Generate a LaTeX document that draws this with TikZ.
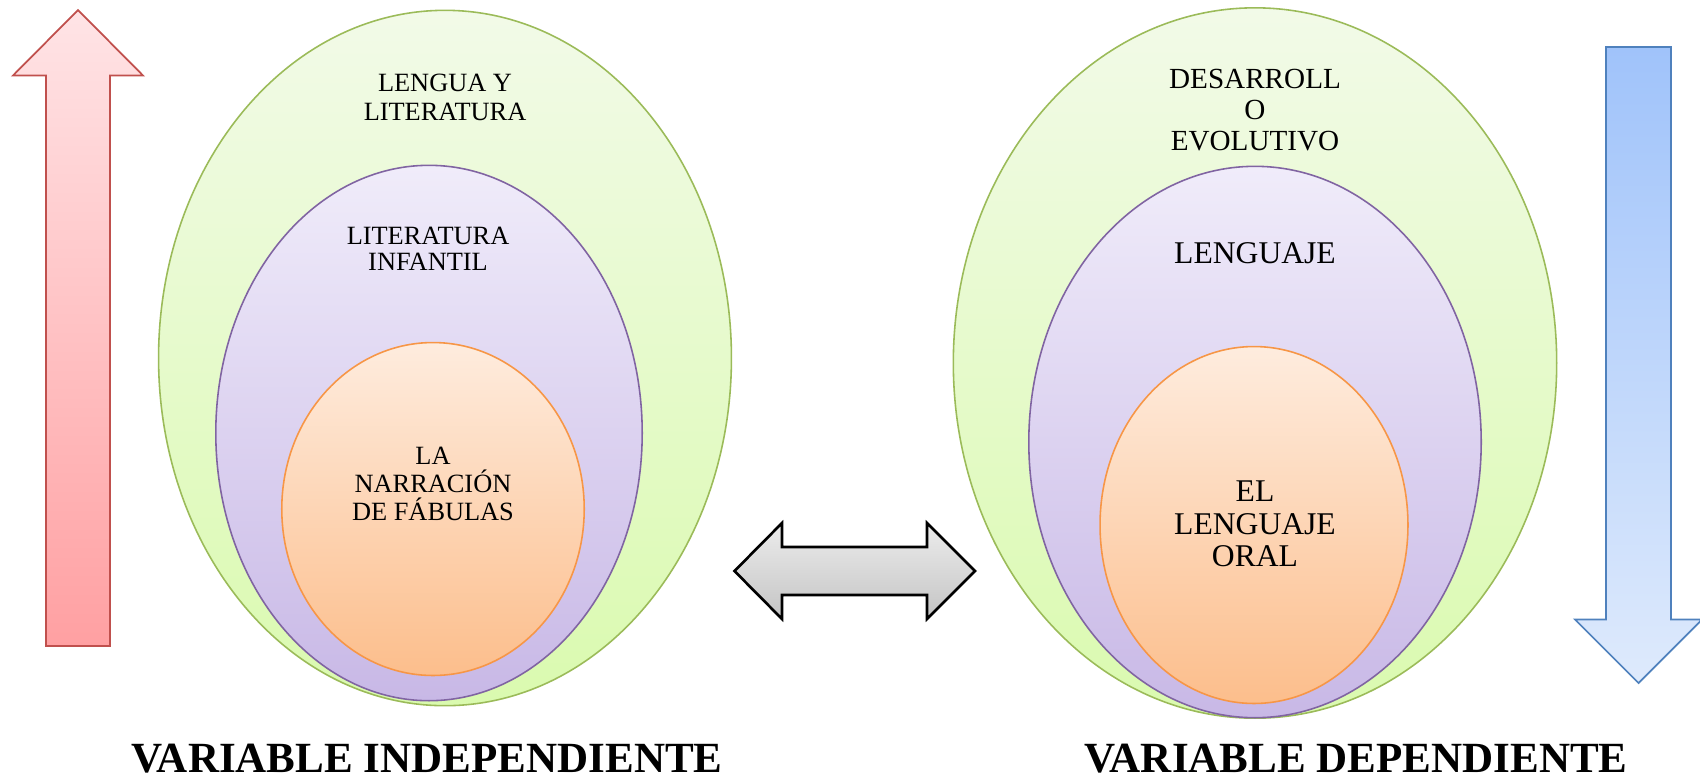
\documentclass[tikz,border=0pt]{standalone}
\usepackage{fontspec}
\setmainfont{Liberation Serif}
\definecolor{arrowRed}{RGB}{192,80,77}
\definecolor{redTop}{RGB}{255,228,230}
\definecolor{redBottom}{RGB}{255,160,162}
\definecolor{greenLine}{RGB}{155,187,89}
\definecolor{greenTop}{RGB}{242,250,232}
\definecolor{greenBottom}{RGB}{218,250,175}
\definecolor{purpleLine}{RGB}{128,100,162}
\definecolor{purpleTop}{RGB}{240,236,250}
\definecolor{purpleBottom}{RGB}{200,184,230}
\definecolor{orangeLine}{RGB}{247,150,70}
\definecolor{orangeTop}{RGB}{254,236,222}
\definecolor{orangeBottom}{RGB}{252,190,140}
\definecolor{arrowBlue}{RGB}{79,129,189}
\definecolor{blueTop}{RGB}{160,195,250}
\definecolor{blueBottom}{RGB}{222,234,252}
\definecolor{greyTop}{RGB}{236,236,236}
\definecolor{greyBottom}{RGB}{196,196,196}
\usetikzlibrary{arrows.meta,positioning,shapes}

\begin{document}
\begin{tikzpicture}[x=0.02cm, y=-0.02cm,
    outerEll/.style={ellipse, draw=greenLine, line width=0.9pt, top color=greenTop, bottom color=greenBottom, inner sep=0pt},
    midEll/.style={ellipse, draw=purpleLine, line width=0.9pt, top color=purpleTop, bottom color=purpleBottom, inner sep=0pt},
    innerEll/.style={ellipse, draw=orangeLine, line width=0.9pt, top color=orangeTop, bottom color=orangeBottom, inner sep=0pt},
    txt/.style={align=center, inner sep=0pt},
    varLabel/.style={anchor=base, inner sep=0pt, font=\fontsize{24.5}{26}\selectfont\bfseries}]
    \useasboundingbox (0,0) rectangle (1700,779);

    % independent variable
    \path[draw=arrowRed, line width=1pt, top color=redTop, bottom color=redBottom]
        (46,646) -- (46,75.5) -- (13,75.5) -- (78,10) -- (143,75.5) -- (110,75.5) -- (110,646) -- cycle;
    \node[outerEll, minimum width=11.46cm, minimum height=13.91cm] (lengLit) at (445,358) {};
    \node[midEll, minimum width=8.53cm, minimum height=10.71cm] (litInf) at (429,433) {};
    \node[innerEll, minimum width=6.05cm, minimum height=6.66cm] (narr) at (433,509) {};
    \node[txt, font=\fontsize{15}{16.4}\selectfont] (lengLitText) at (445,97) {LENGUA Y\\LITERATURA};
    \node[txt, font=\fontsize{15}{14.7}\selectfont] (litInfText) at (428,249) {LITERATURA\\INFANTIL};
    \node[txt, font=\fontsize{15}{15.8}\selectfont] (narrText) at (433,484) {LA\\NARRACIÓN\\DE FÁBULAS};
    \node[varLabel] (indep) at (427,772) {VARIABLE INDEPENDIENTE};

    % relation
    \path[draw=black, line width=1.5pt, top color=greyTop, bottom color=greyBottom]
        (734.5,571) -- (782,523) -- (782,547) -- (927,547) -- (927,523) -- (975,571)
        -- (927,619) -- (927,595) -- (782,595) -- (782,619) -- cycle;

    % dependent variable
    \node[outerEll, minimum width=12.07cm, minimum height=14.21cm] (desEvo) at (1255,363) {};
    \node[midEll, minimum width=9.05cm, minimum height=11.03cm] (leng) at (1255,442) {};
    \node[innerEll, minimum width=6.16cm, minimum height=7.14cm] (lengOral) at (1254,525) {};
    \node[txt, font=\fontsize{16.6}{17.4}\selectfont] (desEvoText) at (1255,110) {DESARROLL\\O\\EVOLUTIVO};
    \node[txt, font=\fontsize{18}{19}\selectfont] (lengText) at (1255,253) {LENGUAJE};
    \node[txt, font=\fontsize{18}{18.6}\selectfont] (lengOralText) at (1255,524) {EL\\LENGUAJE\\ORAL};
    \node[varLabel] (dep) at (1356,772) {VARIABLE DEPENDIENTE};
    \path[draw=arrowBlue, line width=1pt, top color=blueTop, bottom color=blueBottom]
        (1606,47) -- (1671,47) -- (1671,619.5) -- (1702,619.5) -- (1638.5,683) -- (1575,619.5) -- (1606,619.5) -- cycle;
\end{tikzpicture}
\end{document}
